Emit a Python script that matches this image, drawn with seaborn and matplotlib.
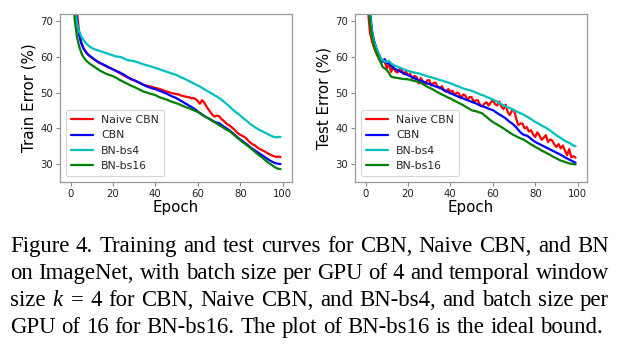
import numpy as np
import pandas as pd
import matplotlib
matplotlib.use("Agg")
import matplotlib.pyplot as plt
import seaborn as sns

# ---------------- data ----------------
epochs = list(range(100))
methods = ["Naive CBN", "CBN", "BN-bs4", "BN-bs16"]
colors = {"Naive CBN": "#ff0000", "CBN": "#0000ff", "BN-bs4": "#00bfbf", "BN-bs16": "#008000"}

train_naive_cbn = [
    92, 84, 77, 72.5, 67, 64.2, 62.6, 61.6, 60.8, 60.2,
    59.7, 59.3, 58.9, 58.5, 58.2, 57.9, 57.6, 57.3, 57.0, 56.8,
    56.5, 56.2, 55.9, 55.5, 55.2, 54.8, 54.5, 54.2, 53.9, 53.6,
    53.4, 53.1, 52.9, 52.6, 52.3, 52.1, 51.9, 51.8, 51.7, 51.5,
    51.3, 51.2, 51.0, 50.8, 50.6, 50.4, 50.2, 50.0, 49.8, 49.7,
    49.6, 49.5, 49.2, 49.1, 48.9, 48.8, 48.7, 48.4, 48.5, 48.2,
    47.6, 46.9, 47.9, 47.2, 46.2, 45.3, 44.5, 43.7, 43.3, 43.6,
    43.4, 42.7, 42.2, 41.6, 41.1, 40.8, 40.3, 39.8, 39.1, 38.6,
    38.2, 37.9, 37.6, 37.1, 36.4, 35.9, 35.5, 35.2, 34.7, 34.3,
    34.0, 33.7, 33.4, 33.0, 32.7, 32.4, 32.2, 32.0, 32.1, 32.0,
]
train_cbn = [
    93, 84, 76, 70.5, 66.2, 63.8, 62.4, 61.5, 60.8, 60.3,
    59.9, 59.4, 59.0, 58.6, 58.3, 58.0, 57.7, 57.4, 57.1, 56.8,
    56.5, 56.2, 55.9, 55.7, 55.4, 55.1, 54.7, 54.3, 54.0, 53.7,
    53.5, 53.2, 52.9, 52.6, 52.3, 52.0, 51.7, 51.5, 51.3, 51.1,
    51.0, 50.7, 50.5, 50.3, 50.0, 49.8, 49.5, 49.2, 48.9, 48.7,
    48.4, 48.1, 47.7, 47.4, 47.0, 46.7, 46.3, 46.0, 45.6, 45.2,
    44.7, 44.3, 43.9, 43.5, 43.1, 42.8, 42.5, 42.1, 41.8, 41.6,
    41.5, 41.0, 40.6, 40.2, 39.8, 39.4, 38.9, 38.4, 37.9, 37.3,
    36.9, 36.5, 36.0, 35.6, 35.1, 34.6, 34.2, 33.8, 33.4, 33.0,
    32.6, 32.2, 31.8, 31.4, 31.0, 30.7, 30.4, 30.2, 30.1, 30.0,
]
train_bn_bs4 = [
    92, 82, 74, 69.5, 67.2, 65.8, 64.8, 64.0, 63.4, 62.9,
    62.5, 62.2, 62.0, 61.8, 61.6, 61.4, 61.2, 61.0, 60.8, 60.6,
    60.4, 60.2, 60.1, 60.0, 59.9, 59.6, 59.3, 59.1, 59.0, 58.9,
    58.8, 58.6, 58.4, 58.2, 58.0, 57.8, 57.6, 57.5, 57.3, 57.1,
    56.9, 56.7, 56.5, 56.3, 56.1, 55.9, 55.7, 55.5, 55.3, 55.1,
    54.9, 54.6, 54.3, 54.1, 53.8, 53.5, 53.2, 52.9, 52.6, 52.3,
    52.0, 51.7, 51.3, 51.0, 50.6, 50.3, 49.9, 49.6, 49.2, 48.9,
    48.5, 48.1, 47.6, 47.1, 46.6, 46.1, 45.5, 45.0, 44.5, 44.1,
    43.6, 43.1, 42.6, 42.1, 41.6, 41.1, 40.7, 40.3, 39.9, 39.6,
    39.3, 39.0, 38.7, 38.4, 38.1, 37.8, 37.6, 37.5, 37.6, 37.6,
]
train_bn_bs16 = [
    88, 77, 70, 65.6, 63.0, 61.2, 60.0, 59.2, 58.6, 58.1,
    57.7, 57.3, 56.9, 56.5, 56.1, 55.8, 55.5, 55.2, 55.0, 54.8,
    54.6, 54.3, 54.0, 53.6, 53.3, 53.0, 52.7, 52.4, 52.1, 51.8,
    51.6, 51.3, 51.0, 50.7, 50.4, 50.2, 50.0, 49.8, 49.6, 49.5,
    49.3, 49.0, 48.7, 48.5, 48.3, 48.1, 47.9, 47.6, 47.4, 47.2,
    47.0, 46.8, 46.5, 46.3, 46.0, 45.8, 45.6, 45.3, 45.1, 44.8,
    44.6, 44.2, 43.8, 43.4, 43.1, 42.8, 42.4, 42.0, 41.7, 41.3,
    40.9, 40.6, 40.2, 39.8, 39.5, 39.2, 38.7, 38.2, 37.7, 37.2,
    36.7, 36.2, 35.8, 35.3, 34.9, 34.4, 33.9, 33.4, 32.9, 32.4,
    32.0, 31.5, 31.0, 30.5, 30.1, 29.7, 29.3, 28.9, 28.7, 28.6,
]

test_naive_cbn = [
    83, 74, 67, 64.5, 62.5, 61.0, 59.8, 58.6, 59.0, 58.7,
    56.8, 58.2, 55.8, 57.2, 56.0, 55.6, 56.6, 56.3, 55.2, 55.9,
    54.9, 55.3, 54.0, 54.7, 54.4, 52.6, 54.1, 53.2, 52.1, 53.4,
    53.5, 52.0, 52.7, 52.8, 51.6, 51.2, 51.8, 50.6, 50.2, 51.0,
    50.2, 50.5, 49.3, 50.0, 49.8, 48.4, 49.5, 49.2, 47.9, 48.8,
    48.7, 47.4, 47.9, 47.8, 46.5, 46.2, 46.9, 47.3, 46.4, 47.2,
    47.9, 46.8, 46.4, 47.5, 46.1, 45.4, 46.6, 44.6, 43.7, 45.0,
    45.1, 42.8, 40.9, 41.4, 41.3, 40.0, 40.4, 39.1, 39.5, 38.3,
    37.6, 38.9, 38.0, 36.8, 37.4, 38.1, 36.2, 36.9, 36.6, 35.5,
    34.8, 35.6, 34.4, 35.2, 33.8, 32.5, 34.2, 31.9, 32.2, 31.8,
]
test_cbn = [
    86, 79, 73, 67.5, 64.5, 62.6, 61.0, 59.8, 58.6, 59.4,
    58.2, 58.4, 57.6, 57.0, 56.6, 56.3, 56.0, 55.7, 55.4, 55.1,
    54.9, 54.6, 54.3, 54.0, 53.8, 53.5, 53.3, 53.1, 52.9, 52.6,
    52.4, 52.2, 52.0, 51.7, 51.6, 51.4, 51.0, 50.7, 50.5, 50.1,
    49.8, 49.6, 49.3, 49.1, 48.8, 48.6, 48.4, 48.1, 47.9, 47.7,
    47.4, 47.2, 47.0, 46.7, 46.4, 46.2, 46.0, 45.8, 45.5, 45.3,
    45.1, 44.7, 44.3, 43.9, 43.6, 43.2, 42.8, 42.3, 41.8, 41.4,
    40.9, 40.3, 39.6, 38.9, 38.4, 38.1, 38.0, 37.6, 37.1, 36.6,
    36.2, 35.9, 35.6, 35.3, 35.0, 34.7, 34.4, 34.1, 33.8, 33.5,
    33.2, 32.9, 32.6, 32.3, 31.9, 31.6, 31.3, 31.0, 30.7, 30.4,
]
test_bn_bs4 = [
    85, 78, 72, 67, 64.2, 62.5, 61.0, 59.8, 59.0, 58.8,
    58.6, 58.9, 58.2, 57.8, 57.5, 57.3, 57.0, 56.8, 56.5, 56.3,
    56.1, 55.9, 55.8, 55.6, 55.5, 55.4, 55.2, 55.0, 54.8, 54.6,
    54.4, 54.3, 54.1, 53.9, 53.7, 53.5, 53.4, 53.2, 53.0, 52.8,
    52.6, 52.4, 52.1, 51.9, 51.7, 51.4, 51.2, 51.0, 50.8, 50.7,
    50.5, 50.3, 50.0, 49.8, 49.5, 49.3, 49.1, 48.8, 48.6, 48.3,
    48.1, 47.8, 47.5, 47.1, 46.8, 46.5, 46.2, 45.9, 45.7, 45.4,
    45.1, 44.8, 44.5, 44.2, 44.0, 43.7, 43.3, 43.0, 42.6, 42.2,
    41.8, 41.5, 41.2, 40.8, 40.5, 40.2, 39.8, 39.4, 39.0, 38.5,
    38.1, 37.7, 37.3, 36.9, 36.5, 36.2, 36.0, 35.6, 35.2, 35.0,
]
test_bn_bs16 = [
    84, 76, 70, 65.5, 63.0, 61.4, 60.0, 58.6, 57.2, 56.8,
    56.3, 55.5, 54.5, 54.3, 54.2, 54.1, 54.0, 53.9, 53.8, 53.8,
    53.7, 53.6, 53.4, 53.3, 53.1, 53.0, 52.7, 52.4, 52.0, 51.7,
    51.4, 51.1, 50.8, 50.4, 50.1, 49.8, 49.5, 49.2, 48.9, 48.6,
    48.4, 48.0, 47.7, 47.4, 47.1, 46.8, 46.5, 46.1, 45.8, 45.4,
    45.1, 44.9, 44.8, 44.6, 44.4, 44.2, 43.7, 43.2, 42.7, 42.2,
    41.8, 41.4, 41.1, 40.7, 40.4, 40.0, 39.6, 39.2, 38.8, 38.4,
    38.1, 37.8, 37.5, 37.2, 37.0, 36.7, 36.3, 35.9, 35.5, 35.2,
    34.8, 34.5, 34.2, 33.8, 33.5, 33.2, 32.9, 32.6, 32.2, 31.9,
    31.6, 31.3, 31.0, 30.8, 30.6, 30.4, 30.2, 30.1, 30.0, 29.9,
]

x_ticks = [0, 20, 40, 60, 80, 100]
y_ticks = [30, 40, 50, 60, 70]

caption_lines = [
    ["Figure", "4.", "Training", "and", "test", "curves", "for", "CBN,", "Naive", "CBN,", "and", "BN"],
    ["on", "ImageNet,", "with", "batch", "size", "per", "GPU", "of", "4", "and", "temporal", "window"],
    ["size", "$k$", "=", "4", "for", "CBN,", "Naive", "CBN,", "and", "BN-bs4,", "and", "batch", "size", "per"],
    ["GPU", "of", "16", "for", "BN-bs16.", "The", "plot", "of", "BN-bs16", "is", "the", "ideal", "bound."],
]


def to_frame(series):
    rows = []
    for name, vals in series.items():
        for e, v in zip(epochs, vals):
            rows.append({"Epoch": e, "Error": v, "Method": name})
    return pd.DataFrame(rows)


train_df = to_frame({
    "Naive CBN": train_naive_cbn, "CBN": train_cbn,
    "BN-bs4": train_bn_bs4, "BN-bs16": train_bn_bs16,
})
test_df = to_frame({
    "Naive CBN": test_naive_cbn, "CBN": test_cbn,
    "BN-bs4": test_bn_bs4, "BN-bs16": test_bn_bs16,
})

# ---------------- style ----------------
sns.set_theme(style="white")
plt.rcParams["font.family"] = ["DejaVu Sans"]
plt.rcParams["mathtext.fontset"] = "custom"
plt.rcParams["mathtext.it"] = "Liberation Serif:italic"
plt.rcParams["mathtext.rm"] = "Liberation Serif"

fig = plt.figure(figsize=(6.21, 3.46), dpi=100)
fig.patch.set_facecolor("white")

W, H = 621, 346
ax_train = fig.add_axes([60 / W, 1 - 182 / H, 232 / W, 168 / H])
ax_test = fig.add_axes([355 / W, 1 - 182 / H, 232 / W, 168 / H])

for ax, df, ylabel in [(ax_train, train_df, "Train Error (%)"),
                       (ax_test, test_df, "Test Error (%)")]:
    sns.lineplot(data=df, x="Epoch", y="Error", hue="Method", hue_order=methods,
                 palette=colors, linewidth=1.6, ax=ax, legend=True)
    ax.set_xlim(-5, 104.4)
    ax.set_ylim(25, 72)
    ax.set_xticks(x_ticks)
    ax.set_yticks(y_ticks)
    ax.tick_params(axis="both", which="major", labelsize=7.3, length=3, width=0.8,
                   color="#888888", labelcolor="#222222", pad=2, bottom=True, left=True)
    for sp in ax.spines.values():
        sp.set_color("#999999")
        sp.set_linewidth(0.9)
    ax.set_xlabel("Epoch", fontsize=10.8, labelpad=1, color="black")
    ax.set_ylabel(ylabel, fontsize=10.8, labelpad=3, color="black")
    leg = ax.legend(loc="lower left", fontsize=7.8, frameon=True, fancybox=True,
                    framealpha=0.8, edgecolor="#cccccc", handlelength=2.0,
                    borderpad=0.45, labelspacing=0.5, handletextpad=0.8,
                    borderaxespad=0.55)
    for line in leg.get_lines():
        line.set_linewidth(1.6)
    leg.get_frame().set_linewidth(0.8)

# ---------------- caption (justified) ----------------
cap_left, cap_right = 10, 609
baselines = [252, 279, 306, 333]
cap_size = 16.4
fig.canvas.draw()
renderer = fig.canvas.get_renderer()


def text_width(s):
    t = fig.text(0, 0, s, fontsize=cap_size, family="Liberation Serif")
    w = t.get_window_extent(renderer).width
    t.remove()
    return w


space = text_width("a b") - text_width("ab")
for li, (words, base) in enumerate(zip(caption_lines, baselines)):
    y = 1 - base / H
    texts = [fig.text(0, y, w, fontsize=cap_size, family="Liberation Serif",
                      color="black", va="baseline", ha="left") for w in words]
    widths = [t.get_window_extent(renderer).width for t in texts]
    if li < len(caption_lines) - 1:
        gap = (cap_right - cap_left - sum(widths)) / (len(words) - 1)
    else:
        gap = space
    x = cap_left
    for t, w in zip(texts, widths):
        t.set_x(x / W)
        x += w + gap

fig.savefig("out.png", dpi=100, facecolor="white")
